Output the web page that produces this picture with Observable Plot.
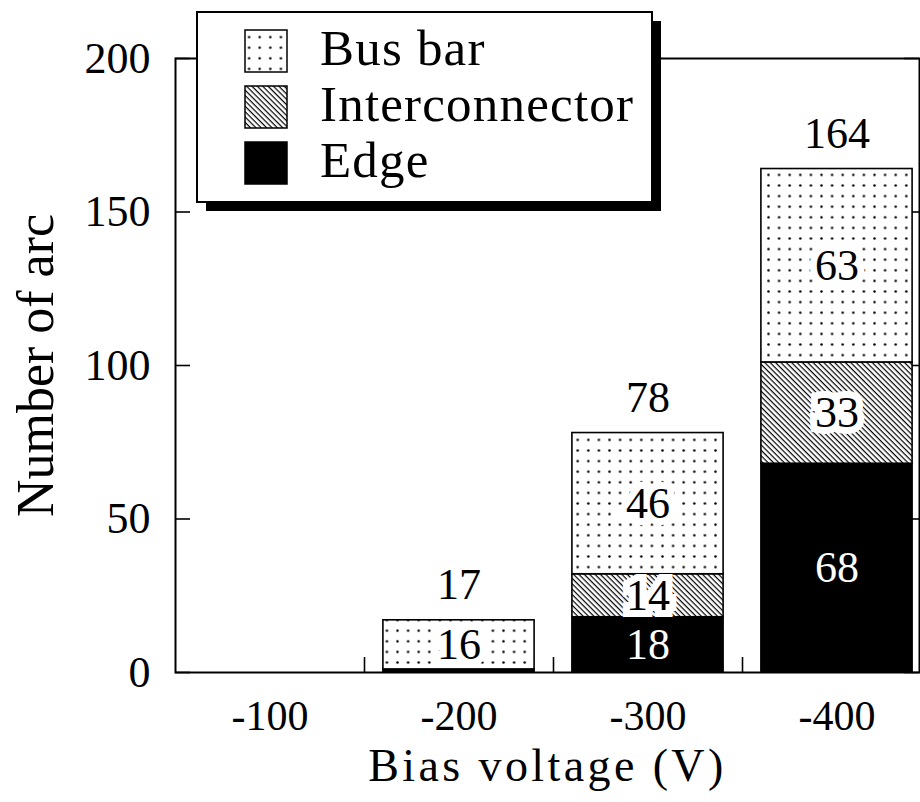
<!DOCTYPE html>
<html><head><meta charset="utf-8">
<script src="https://cdn.jsdelivr.net/npm/d3@7"></script>
<script src="https://cdn.jsdelivr.net/npm/@observablehq/plot@0.6"></script>
<style>body{margin:0;background:#fff}</style>
</head><body><div id="chart"></div>
<script>
// ---- data ----
const voltages = ["-100", "-200", "-300", "-400"];
const seriesNames = ["Bus bar", "Interconnector", "Edge"];
const busBar = [0, 16, 46, 63];
const interconnector = [0, 0, 14, 33];
const edge = [0, 1, 18, 68];
const yTicks = [0, 50, 100, 150, 200];
const xTitle = "Bias voltage (V)";
const yTitle = "Number of arc";

// ---- table built from the arrays (stack bottom→top: Edge, Interconnector, Bus bar) ----
const seriesValues = {"Bus bar": busBar, "Interconnector": interconnector, "Edge": edge};
const stackOrder = ["Edge", "Interconnector", "Bus bar"];
const rows = [];
voltages.forEach((v, i) => {
  let base = 0;
  for (const name of stackOrder) {
    const val = seriesValues[name][i];
    rows.push({pos: i + 1, voltage: v, series: name, value: val, y1: base, y2: base + val});
    base += val;
  }
});
const totals = voltages.map((v, i) => ({pos: i + 1, total: busBar[i] + interconnector[i] + edge[i]}));

// ---- layout / style ----
const W = 920, H = 802, mL = 175, mR = 1, mT = 58, mB = 130;
const frameW = W - mL - mR, frameH = H - mT - mB;
const bandPx = 189, half = 0.4, tickLen = 15;
const font = "'Liberation Serif', 'Times New Roman', serif";
const fills = {"Bus bar": "url(#pat-dots)", "Interconnector": "url(#pat-hatch)", "Edge": "#000"};

function defsMark() {
  const defs = d3.create("svg:defs");
  const s = 10.6;
  const dots = defs.append("pattern").attr("id", "pat-dots").attr("patternUnits", "userSpaceOnUse")
    .attr("width", s).attr("height", s);
  dots.append("rect").attr("width", s).attr("height", s).attr("fill", "#fff");
  dots.append("circle").attr("cx", s / 2).attr("cy", s / 2).attr("r", 1.25).attr("fill", "#000");
  const h = 3.8;
  const hatch = defs.append("pattern").attr("id", "pat-hatch").attr("patternUnits", "userSpaceOnUse")
    .attr("width", 10).attr("height", h).attr("patternTransform", "rotate(45)");
  hatch.append("rect").attr("width", 10).attr("height", h).attr("fill", "#fff");
  hatch.append("rect").attr("width", 10).attr("height", 1.2).attr("fill", "#000");
  return defs.node();
}

function legendMark() {
  const g = d3.create("svg:g");
  const bx = 197, by = 12, bw = 455, bh = 190, sh = 9;
  g.append("rect").attr("x", bx + sh).attr("y", by + sh).attr("width", bw).attr("height", bh).attr("fill", "#000");
  g.append("rect").attr("x", bx).attr("y", by).attr("width", bw).attr("height", bh)
    .attr("fill", "#fff").attr("stroke", "#000").attr("stroke-width", 2);
  seriesNames.forEach((name, i) => {
    const y = 30 + i * 56;
    g.append("rect").attr("x", 245).attr("y", y).attr("width", 42).attr("height", 42)
      .attr("fill", fills[name]).attr("stroke", "#000").attr("stroke-width", 1.5);
    g.append("text").attr("x", 320).attr("y", y + 35).attr("font-family", font)
      .attr("text-anchor", "start").attr("letter-spacing", 1.2)
      .attr("font-size", 51).attr("fill", "#000").text(name);
  });
  return g.node();
}

const barMarks = stackOrder.map(name =>
  Plot.rect(rows.filter(d => d.series === name && d.value > 0), {
    x1: d => d.pos - half, x2: d => d.pos + half, y1: "y1", y2: "y2",
    fill: fills[name], stroke: "#000", strokeWidth: 1.6
  })
);

const chart = Plot.plot({
  width: W, height: H,
  marginLeft: mL, marginRight: mR, marginTop: mT, marginBottom: mB,
  style: {fontFamily: font, background: "#fff", color: "#000"},
  x: {type: "linear", domain: [0.5, 0.5 + frameW / bandPx]},
  y: {domain: [0, 200]},
  marks: [
    defsMark,
    // inward ticks (drawn under bars)
    Plot.tickY(yTicks, {y: d => d, insetRight: frameW - tickLen, stroke: "#000", strokeWidth: 1.6}),
    Plot.tickY(yTicks, {y: d => d, insetLeft: frameW - tickLen, stroke: "#000", strokeWidth: 1.6}),
    Plot.tickX(d3.range(1, voltages.length).map(i => i + 0.5), {x: d => d, insetTop: frameH - tickLen, stroke: "#000", strokeWidth: 1.6}),
    ...barMarks,
    // segment labels
    Plot.text(rows.filter(d => d.series !== "Edge" && d.value > 1), {
      x: "pos", y: d => (d.y1 + d.y2) / 2, text: d => String(d.value),
      fontSize: 44, fill: "#000", stroke: "#fff", strokeWidth: 14, paintOrder: "stroke", strokeLinejoin: "miter"
    }),
    Plot.text(rows.filter(d => d.series === "Edge" && d.value > 1), {
      x: "pos", y: d => (d.y1 + d.y2) / 2, text: d => String(d.value), fontSize: 44, fill: "#fff"
    }),
    // totals
    Plot.text(totals.filter(d => d.total > 0), {
      x: "pos", y: "total", text: d => String(d.total), dy: -35, fontSize: 44, fill: "#000"
    }),
    // axes
    Plot.axisY(yTicks, {tickSize: 0, tickPadding: 25, fontSize: 44, label: null}),
    Plot.axisX(voltages.map((v, i) => i + 1), {tickSize: 0, tickPadding: 28, fontSize: 42, label: null,
      tickFormat: p => voltages[p - 1]}),
    Plot.text([xTitle], {frameAnchor: "bottom", dy: 94, lineAnchor: "middle", textAnchor: "middle", fontSize: 46, fill: "#000"}),
    Plot.text([yTitle], {frameAnchor: "left", dx: -139, rotate: -90, lineAnchor: "middle", textAnchor: "middle", fontSize: 52, fill: "#000"}),
    Plot.frame({stroke: "#000", strokeWidth: 2}),
    legendMark
  ]
});
// widen the x-axis title a little, like the reference's wide serif face
d3.select(chart).selectAll("text").filter(function () { return this.textContent === xTitle; })
  .attr("letter-spacing", 3.4);
document.getElementById("chart").appendChild(chart);
</script>
</body></html>
